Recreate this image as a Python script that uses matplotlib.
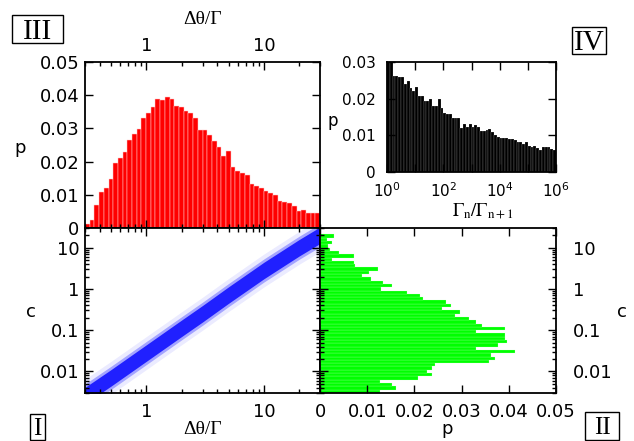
import numpy as np
import matplotlib.pyplot as plt
from matplotlib.patches import Rectangle
from matplotlib.ticker import FixedLocator, FixedFormatter, LogLocator, NullFormatter, NullLocator

plt.rcParams['font.family'] = ['DejaVu Sans']
plt.rcParams['font.size'] = 13
plt.rcParams['axes.linewidth'] = 1.3

W, H = 634, 441

# panel III: p(dtheta/Gamma), 50 log bins from 0.3 to 30
p_dtheta = [0.0012, 0.0024, 0.0069, 0.0108, 0.0120, 0.0149, 0.0195, 0.0211, 0.0229, 0.0265,
            0.0283, 0.0298, 0.0332, 0.0345, 0.0364, 0.0390, 0.0386, 0.0394, 0.0390, 0.0367,
            0.0363, 0.0352, 0.0345, 0.0332, 0.0295, 0.0295, 0.0279, 0.0261, 0.0245, 0.0217,
            0.0233, 0.0184, 0.0172, 0.0166, 0.0159, 0.0134, 0.0127, 0.0120, 0.0110, 0.0104,
            0.0099, 0.0081, 0.0077, 0.0075, 0.0067, 0.0052, 0.0054, 0.0044, 0.0044, 0.0044]
dtheta_range = (0.3, 30)

# panel II: p(c), 48 log bins, listed from top to bottom
p_c = [0.0030, 0.0014, 0.0026, 0.0016, 0.0022, 0.0041, 0.0071, 0.0026, 0.0071, 0.0075,
       0.0123, 0.0104, 0.0089, 0.0107, 0.0133, 0.0152, 0.0130, 0.0185, 0.0211, 0.0218,
       0.0267, 0.0278, 0.0259, 0.0297, 0.0285, 0.0315, 0.0330, 0.0344, 0.0392, 0.0330,
       0.0391, 0.0393, 0.0396, 0.0377, 0.0330, 0.0414, 0.0363, 0.0370, 0.0359, 0.0244,
       0.0238, 0.0226, 0.0237, 0.0208, 0.0127, 0.0153, 0.0160, 0.0127]
c_log_bottom = -2.52   # log10 of lowest bin edge
c_log_step = 0.08

# panel IV: p(Gamma_n/Gamma_n+1), 60 bins of 0.1 decade from 1 to 1e6
p_ratio = [0.0310, 0.0310, 0.0263, 0.0263, 0.0260, 0.0260, 0.0240, 0.0247, 0.0229, 0.0221,
           0.0231, 0.0207, 0.0207, 0.0195, 0.0195, 0.0198, 0.0180, 0.0180, 0.0198, 0.0175,
           0.0161, 0.0158, 0.0158, 0.0147, 0.0147, 0.0147, 0.0121, 0.0131, 0.0124, 0.0131,
           0.0124, 0.0129, 0.0124, 0.0112, 0.0112, 0.0115, 0.0118, 0.0108, 0.0101, 0.0095,
           0.0094, 0.0092, 0.0092, 0.0090, 0.0089, 0.0087, 0.0082, 0.0081, 0.0077, 0.0081,
           0.0071, 0.0069, 0.0071, 0.0066, 0.0059, 0.0069, 0.0068, 0.0068, 0.0062, 0.0059]

# panel I: scatter cloud of c vs dtheta/Gamma, read as band centre and spread (decades)
band_x = [0.3, 0.5, 1, 2, 3, 5, 10, 20, 30]
band_mid = [0.0026, 0.007, 0.028, 0.112, 0.25, 0.71, 2.8, 10, 20]
band_spread = [0.2, 0.28, 0.4]
band_alpha = [0.8, 0.3, 0.08]


def px_axes(l, t, r, b):
    return fig.add_axes([l / W, 1 - b / H, (r - l) / W, (b - t) / H])


def box_label(txt, l, t, r, b, size):
    fig.add_artist(Rectangle((l / W, 1 - b / H), (r - l) / W, (b - t) / H,
                             transform=fig.transFigure, fill=False, lw=1.0, ec='black'))
    cap = 0.66 * size * 100 / 72
    base = (t + b) / 2 + cap / 2
    fig.text((l + r) / 2 / W, 1 - base / H, txt, ha='center', va='baseline',
             family='Liberation Serif', size=size)


fig = plt.figure(figsize=(W / 100, H / 100), dpi=100)
ax3 = px_axes(85, 62, 320, 228)
ax1 = px_axes(85, 228, 320, 393)
ax2 = px_axes(320, 228, 556, 393)
ax4 = px_axes(387, 62, 556, 172)

for ax in (ax1, ax2, ax3, ax4):
    ax.tick_params(which='both', direction='in', top=True, bottom=True, left=True, right=True, width=1)
    ax.tick_params(which='major', length=6)
    ax.tick_params(which='minor', length=3)

log_minor = LogLocator(base=10, subs=np.arange(2, 10))

# ---- III
edges = np.logspace(np.log10(dtheta_range[0]), np.log10(dtheta_range[1]), len(p_dtheta) + 1)
ax3.bar(edges[:-1], p_dtheta, width=np.diff(edges), align='edge', color='#ff0000',
        edgecolor='#ffc8c8', linewidth=0.35)
ax3.set_xscale('log')
ax3.set_xlim(*dtheta_range)
ax3.set_ylim(0, 0.05)
ax3.xaxis.set_major_locator(FixedLocator([1, 10]))
ax3.xaxis.set_major_formatter(FixedFormatter(['1', '10']))
ax3.xaxis.set_minor_locator(log_minor)
ax3.xaxis.set_minor_formatter(NullFormatter())
ax3.set_yticks([0, 0.01, 0.02, 0.03, 0.04, 0.05], ['0', '0.01', '0.02', '0.03', '0.04', '0.05'])
ax3.tick_params(labelbottom=False, labeltop=True, pad=4)
ax3.tick_params(axis='x', pad=5)
ax3.xaxis.set_label_position('top')
ax3.set_xlabel('Δθ/Γ', family='Liberation Serif', size=14, va='center')
ax3.xaxis.set_label_coords(0.5, 1.255)
ax3.set_ylabel('p', rotation=0, ha='center', va='center')
ax3.yaxis.set_label_coords(-0.277, 0.48)

# ---- I
for s, a in zip(band_spread, band_alpha):
    lo = np.array(band_mid) * 10 ** (-s)
    hi = np.array(band_mid) * 10 ** s
    ax1.fill_between(band_x, lo, hi, color='#0000ff', alpha=a, linewidth=0)
ax1.set_xscale('log')
ax1.set_yscale('log')
ax1.set_xlim(*dtheta_range)
ax1.set_ylim(0.003, 30)
ax1.xaxis.set_major_locator(FixedLocator([1, 10]))
ax1.xaxis.set_major_formatter(FixedFormatter(['1', '10']))
ax1.xaxis.set_minor_locator(log_minor)
ax1.xaxis.set_minor_formatter(NullFormatter())
ax1.yaxis.set_major_locator(FixedLocator([0.01, 0.1, 1, 10]))
ax1.yaxis.set_major_formatter(FixedFormatter(['0.01', '0.1', '1', '10']))
ax1.yaxis.set_minor_locator(log_minor)
ax1.yaxis.set_minor_formatter(NullFormatter())
ax1.tick_params(axis='x', pad=7)
ax1.tick_params(axis='y', pad=4)
ax1.set_xlabel('Δθ/Γ', family='Liberation Serif', size=14, va='baseline')
ax1.xaxis.set_label_coords(0.5, -0.248)
ax1.set_ylabel('c', rotation=0, ha='center', va='center')
ax1.yaxis.set_label_coords(-0.23, 0.49)

# ---- II
c_edges = 10 ** (c_log_bottom + c_log_step * np.arange(len(p_c) + 1))
ax2.barh(c_edges[:-1], p_c[::-1], height=np.diff(c_edges), align='edge', color='#00ff00',
         edgecolor='#c8ffc8', linewidth=0.15)
ax2.set_yscale('log')
ax2.set_ylim(0.003, 30)
ax2.set_xlim(0, 0.05)
ax2.set_xticks([0, 0.01, 0.02, 0.03, 0.04, 0.05], ['0', '0.01', '0.02', '0.03', '0.04', '0.05'])
ax2.yaxis.set_major_locator(FixedLocator([0.01, 0.1, 1, 10]))
ax2.yaxis.set_major_formatter(FixedFormatter(['0.01', '0.1', '1', '10']))
ax2.yaxis.set_minor_locator(log_minor)
ax2.yaxis.set_minor_formatter(NullFormatter())
ax2.tick_params(labelleft=False, labelright=True)
ax2.tick_params(axis='y', pad=12)
ax2.tick_params(axis='x', pad=7)
ax2.set_xlabel('p', va='baseline')
ax2.xaxis.set_label_coords(0.538, -0.248)
ax2.yaxis.set_label_position('right')
ax2.set_ylabel('c', rotation=0, ha='center', va='center')
ax2.yaxis.set_label_coords(1.28, 0.49)

# ---- IV
r_edges = 10 ** (0.1 * np.arange(len(p_ratio) + 1))
ax4.bar(r_edges[:-1], p_ratio, width=np.diff(r_edges), align='edge', color='black',
        edgecolor='white', linewidth=0.12)
ax4.set_xscale('log')
ax4.set_xlim(1, 1e6)
ax4.set_ylim(0, 0.03)
ax4.xaxis.set_major_locator(FixedLocator([10 ** k for k in range(7)]))
ax4.xaxis.set_major_formatter(FixedFormatter(['$10^{0}$', '', '$10^{2}$', '', '$10^{4}$', '', '$10^{6}$']))
ax4.xaxis.set_minor_locator(NullLocator())
ax4.set_yticks([0, 0.01, 0.02, 0.03], ['0', '0.01', '0.02', '0.03'])
ax4.tick_params(labelsize=11)
ax4.tick_params(axis='x', pad=7)
ax4.tick_params(axis='y', pad=8)
ax4.set_xlabel(r'$\Gamma_{\mathrm{n}}/\Gamma_{\mathrm{n+1}}$', math_fontfamily='stix', size=13.5, va='baseline')
ax4.xaxis.set_label_coords(0.57, -0.395)
ax4.set_ylabel('p', rotation=0, ha='center', va='center', size=12)
ax4.yaxis.set_label_coords(-0.32, 0.46)

# panel labels
box_label('III', 12, 15, 63, 43, 21)
box_label('IV', 572, 27, 606, 54, 21)
box_label('I', 30, 414, 45, 440, 18)
box_label('II', 585, 412, 619, 440, 18)

fig.savefig('out.png', dpi=100)
